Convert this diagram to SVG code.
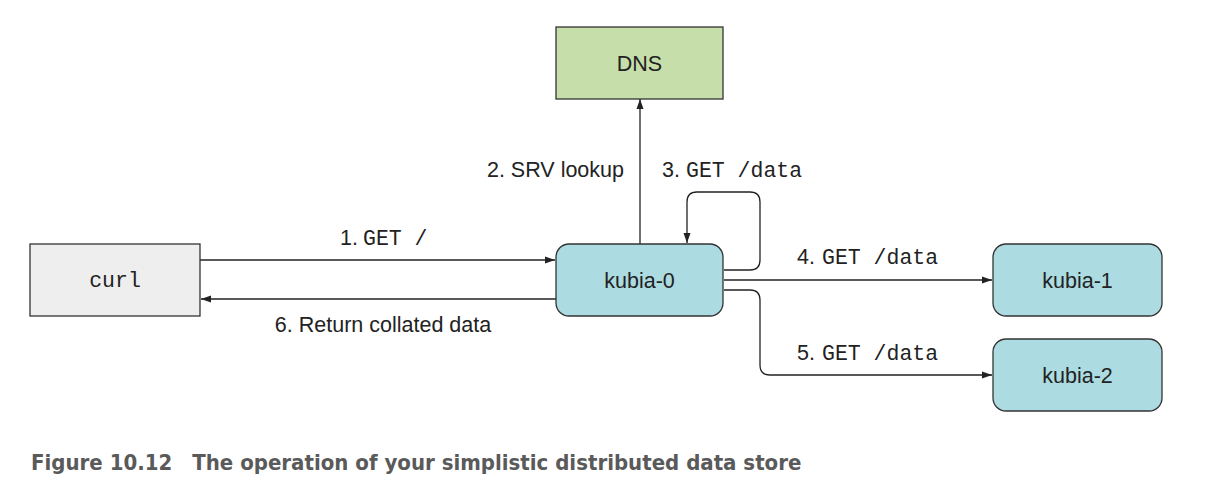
<svg xmlns="http://www.w3.org/2000/svg" width="1220" height="504" viewBox="0 0 1220 504">
<defs>
<style>
.box{stroke:#333;stroke-width:1.3}
.pod{fill:#acdbe1}
.lbl{font-family:"Liberation Sans",Arial,sans-serif;font-size:21.5px;fill:#222}
.mono{font-family:"Liberation Mono","Courier New",monospace;font-size:21.5px;fill:#222}
.ln{fill:none;stroke:#222;stroke-width:1.3}
.cap{font-family:"Liberation Sans Narrow","DejaVu Sans Condensed","Liberation Sans",sans-serif;font-weight:bold;font-size:22px;fill:#5a5a5a}
</style>
<marker id="arr" viewBox="0 0 10 10" refX="10" refY="5" markerWidth="10" markerHeight="10" markerUnits="userSpaceOnUse" orient="auto">
<path d="M0,1.5 L10,5 L0,8.5 Z" fill="#222"/>
</marker>
</defs>
<rect width="1220" height="504" fill="#fff"/>
<g id="connectors">
<path class="ln" d="M200,260 H555" marker-end="url(#arr)"/>
<path class="ln" d="M556,299 H201" marker-end="url(#arr)"/>
<path class="ln" d="M640,244 V99" marker-end="url(#arr)"/>
<path class="ln" d="M724,270 H750 Q760,270 760,260 V202 Q760,192 750,192 H697 Q687,192 687,202 V243" marker-end="url(#arr)"/>
<path class="ln" d="M724,280 H992" marker-end="url(#arr)"/>
<path class="ln" d="M724,290 H750 Q760,290 760,300 V365 Q760,375 770,375 H992" marker-end="url(#arr)"/>
<text class="lbl" x="340" y="245">1.</text><text class="mono" x="363" y="245">GET /</text>
<text class="lbl" x="624" y="177" text-anchor="end">2. SRV lookup</text>
<text class="lbl" x="662" y="177">3.</text><text class="mono" x="686" y="177">GET /data</text>
<text class="lbl" x="797" y="264">4.</text><text class="mono" x="822" y="264">GET /data</text>
<text class="lbl" x="797" y="360">5.</text><text class="mono" x="822" y="360">GET /data</text>
<text class="lbl" x="383" y="332" text-anchor="middle">6. Return collated data</text>
</g>
<g id="dns">
<rect class="box" x="556" y="27" width="167" height="72" fill="#c6deaa"/>
<text class="lbl" x="639.5" y="71" text-anchor="middle">DNS</text>
</g>
<g id="curl">
<rect class="box" x="30" y="244" width="170" height="72" fill="#eeeeee"/>
<text class="mono" x="115" y="287" text-anchor="middle">curl</text>
</g>
<g id="kubia-0">
<rect class="box pod" x="556" y="244" width="167" height="72" rx="13"/>
<text class="lbl" x="639.5" y="288" text-anchor="middle">kubia-0</text>
</g>
<g id="kubia-1">
<rect class="box pod" x="993" y="244" width="169" height="72" rx="13"/>
<text class="lbl" x="1077.5" y="288" text-anchor="middle">kubia-1</text>
</g>
<g id="kubia-2">
<rect class="box pod" x="993" y="339" width="169" height="72" rx="13"/>
<text class="lbl" x="1077.5" y="383" text-anchor="middle">kubia-2</text>
</g>
<text class="cap" x="31" y="470">Figure 10.12<tspan dx="20">The operation of your simplistic distributed data store</tspan></text>
</svg>
